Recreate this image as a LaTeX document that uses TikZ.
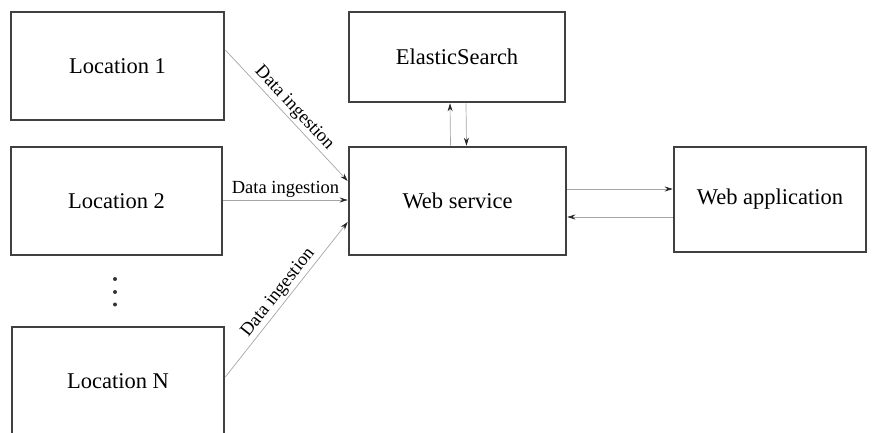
\documentclass[tikz,border=0pt]{standalone}
\usepackage{fontspec}
\setmainfont{Liberation Serif}
\usetikzlibrary{arrows.meta}

\begin{document}
\begin{tikzpicture}[x=1pt,y=-1pt,
  box/.style={draw=black!75, line width=2.6pt, fill=white, font=\fontsize{22.5}{26}\selectfont},
  flow/.style={draw=black!35, line width=0.7pt, -{Stealth[black!85,length=8pt,width=5pt]}},
  ingest/.style={font=\fontsize{18.5}{22}\selectfont, inner sep=2pt}]
  \useasboundingbox (0,0) rectangle (876,432);

  \node [box, minimum width=213pt, minimum height=108pt] (loc1) at (117.5,66) {Location 1};
  \node [box, minimum width=211pt, minimum height=108pt] (loc2) at (116.5,201) {Location 2};
  \node [box, minimum width=212pt, minimum height=108pt] (locN) at (118,381) {Location N};

  % vertical dots between Location 2 and Location N
  \fill [black!80] (115,279) circle (2pt);
  \fill [black!80] (115,292) circle (2pt);
  \fill [black!80] (115,304.5) circle (2pt);

  \node [box, minimum width=216pt, minimum height=90pt] (elastic) at (457,57) {ElasticSearch};
  \node [box, minimum width=217pt, minimum height=108pt] (websrv) at (457.5,201) {Web service};
  \node [box, minimum width=192pt, minimum height=105pt] (webapp) at (770,199.5) {Web application};

  \draw [flow] ([yshift=16pt]loc1.east) -- node [ingest, above, sloped] {Data ingestion} ([yshift=20pt]websrv.west);
  \draw [flow] ([yshift=1pt]loc2.east) -- node [ingest, above] {Data ingestion} ([yshift=1pt]websrv.west);
  \draw [flow] ([yshift=4pt]locN.east) -- node [ingest, above, sloped] {Data ingestion} ([yshift=-21pt]websrv.west);

  \draw [flow] ([xshift=-7pt]websrv.north) -- ([xshift=-7pt]elastic.south);
  \draw [flow] ([xshift=9pt]elastic.south) -- ([xshift=9pt]websrv.north);

  \draw [flow] ([yshift=12pt]websrv.east) -- ([yshift=10.5pt]webapp.west);
  \draw [flow] ([yshift=-17.5pt]webapp.west) -- ([yshift=-16pt]websrv.east);
\end{tikzpicture}
\end{document}
